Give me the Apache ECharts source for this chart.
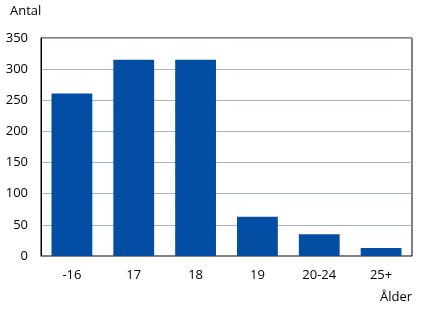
<!DOCTYPE html>
<html><head><meta charset="utf-8">
<script src="https://cdn.jsdelivr.net/npm/echarts@6/dist/echarts.min.js"></script>
<style>html,body{margin:0;padding:0;background:#fff}#c{width:429px;height:310px}</style>
</head><body><div id="c"></div>
<script>
const categories = ['-16', '17', '18', '19', '20-24', '25+'];
const values = [261, 315, 315, 63, 35, 13];
const yTicks = [0, 50, 100, 150, 200, 250, 300, 350];

const chart = echarts.init(document.getElementById('c'), null, {renderer: 'canvas'});
const font = 'Open Sans';
chart.setOption({
  animation: false,
  backgroundColor: '#fff',
  grid: {left: 41, right: 17, top: 38, bottom: 54, show: true, borderColor: '#000', borderWidth: 1, containLabel: false},
  xAxis: {
    type: 'category', data: categories,
    name: 'Ålder', nameLocation: 'end', nameGap: 0,
    nameTextStyle: {fontFamily: font, fontSize: 13, color: '#000', align: 'right', verticalAlign: 'top', padding: [35, 0, 0, 0]},
    axisLine: {lineStyle: {color: '#808080', width: 1}},
    axisTick: {show: false},
    axisLabel: {fontFamily: font, fontSize: 13, color: '#000', margin: 13}
  },
  yAxis: {
    type: 'value', min: 0, max: 350, interval: 50,
    name: 'Antal', nameLocation: 'end', nameGap: 20,
    nameTextStyle: {fontFamily: font, fontSize: 13, color: '#000', align: 'left', padding: [0, 0, 0, -31]},
    axisLine: {show: true, lineStyle: {color: '#000', width: 1}},
    axisTick: {show: false},
    axisLabel: {fontFamily: font, fontSize: 13, color: '#000', margin: 13,
      formatter: v => yTicks.includes(v) ? String(v) : ''},
    splitLine: {lineStyle: {color: '#A5B3C6', width: 1}}
  },
  series: [{
    type: 'bar', data: values, barCategoryGap: '34%',
    itemStyle: {color: '#034EA2'}
  }]
});
</script></body></html>
